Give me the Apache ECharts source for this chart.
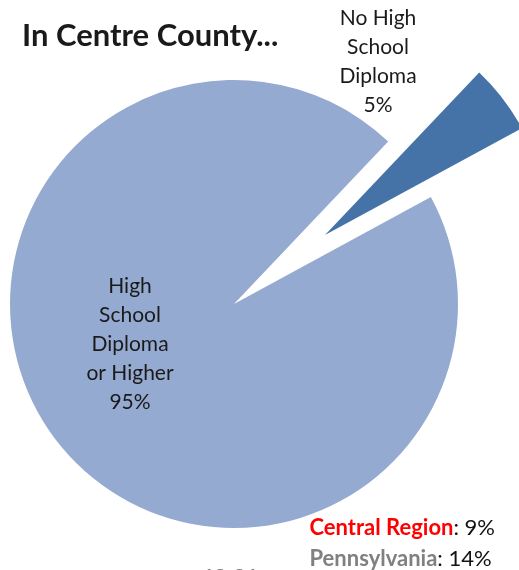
<!DOCTYPE html>
<html>
<head>
<meta charset="utf-8">
<script src="https://cdn.jsdelivr.net/npm/echarts@6/dist/echarts.min.js"></script>
<style>
html,body{margin:0;padding:0;background:#fff;}
#chart{width:519px;height:570px;}
</style>
</head>
<body>
<div id="chart"></div>
<script>
// ---- data ----
var categories = ['No High School Diploma', 'High School Diploma or Higher'];
var labelTexts = ['No High\nSchool\nDiploma', 'High\nSchool\nDiploma\nor Higher'];
var values = [5, 95];
var compareNames = ['Central Region', 'Pennsylvania'];
var compareValues = [9, 14];
var titleText = 'In Centre County...';
var footText = 'Among individuals ages ';
var footAge = '18-24';

var FONT = 'Lato, "Open Sans", sans-serif';
var colors = ['#4673A7', '#95AAD0'];
var labelPos = [[378, 62], [130, 344]];

var chart = echarts.init(document.getElementById('chart'), null, {renderer: 'canvas'});

// one pie series per slice group: main slice at centre, exploded slice pulled out
function makeSeries(showIndex, center) {
  return {
    type: 'pie',
    center: center,
    radius: 224,
    startAngle: 46.5,
    clockwise: true,
    silent: true,
    emphasis: {disabled: true},
    itemStyle: {borderWidth: 0},
    labelLine: {show: false},
    label: {
      show: true,
      position: 'inside',
      formatter: function (p) {
        return p.dataIndex === showIndex ? labelTexts[p.dataIndex] + '\n' + p.value + '%' : '';
      },
      fontFamily: FONT,
      fontSize: 21,
      lineHeight: 29,
      color: '#1a1a1a',
      align: 'center'
    },
    labelLayout: function (p) {
      return {x: labelPos[p.dataIndex][0], y: labelPos[p.dataIndex][1], align: 'center', verticalAlign: 'middle'};
    },
    data: values.map(function (v, i) {
      return {
        value: v,
        name: categories[i],
        itemStyle: {color: i === showIndex ? colors[i] : 'rgba(0,0,0,0)'}
      };
    })
  };
}

var option = {
  backgroundColor: '#ffffff',
  animation: false,
  title: [
    {
      text: titleText,
      left: 17,
      top: 15,
      textStyle: {fontFamily: FONT, fontSize: 31, fontWeight: 'bold', color: '#1a1a1a'}
    },
    {
      text: '{r|' + compareNames[0] + '}{k|: ' + compareValues[0] + '%}\n{g|' + compareNames[1] + '}{k|: ' + compareValues[1] + '%}',
      right: 19,
      top: 507,
      textStyle: {
        fontFamily: FONT,
        lineHeight: 31,
        rich: {
          r: {fontFamily: FONT, fontSize: 22, fontWeight: 'bold', color: '#ff0000', lineHeight: 31},
          g: {fontFamily: FONT, fontSize: 22, fontWeight: 'bold', color: '#808080', lineHeight: 31},
          k: {fontFamily: FONT, fontSize: 22, fontWeight: 'normal', color: '#111111', lineHeight: 31}
        }
      }
    },
    {
      text: footText + '{b|' + footAge + '}',
      left: 0,
      top: 567,
      padding: 0,
      textStyle: {
        fontFamily: FONT,
        fontSize: 19,
        lineHeight: 22,
        color: '#808080',
        rich: {b: {fontFamily: FONT, fontSize: 20, fontWeight: 'bold', color: '#808080', lineHeight: 22}}
      }
    }
  ],
  series: [
    makeSeries(1, [234, 304]),
    makeSeries(0, [325, 235])
  ]
};
chart.setOption(option);
</script>
</body>
</html>
